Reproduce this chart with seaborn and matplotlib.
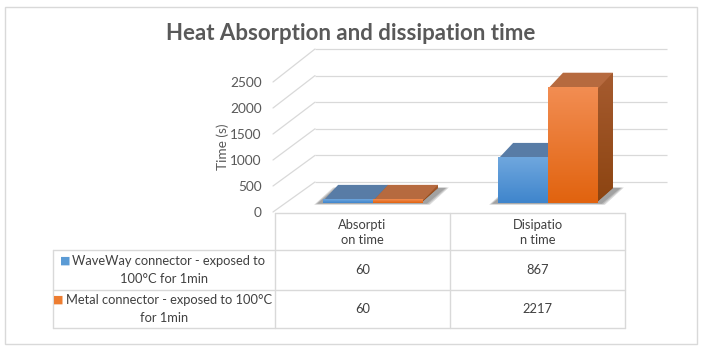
import matplotlib.pyplot as plt
import seaborn as sns
import pandas as pd
import numpy as np
from matplotlib.patches import Polygon, Rectangle
from matplotlib.colors import LinearSegmentedColormap

# ---------------- data ----------------
categories = ['Absorption time', 'Dissipation time']
header_labels = ['Absorpti\non time', 'Disipatio\nn time']
series = ['WaveWay connector - exposed to 100°C for 1min',
          'Metal connector - exposed to 100°C for 1min']
row_label_lines = [['WaveWay connector - exposed to', '100°C for 1min'],
                   ['Metal connector - exposed to 100°C', 'for 1min']]
waveway = [60, 867]
metal = [60, 2217]
y_ticks = [0, 500, 1000, 1500, 2000, 2500]

# colours: front flat, gradient bottom/top, top face, side face bottom/top
front_colors = ['#5b9bd5', '#ed7d31']
grad_colors = [('#3f85cc', '#6fa7de'), ('#e1630f', '#f28d52')]
top_colors = ['#587ca6', '#b66a3f']
side_colors = [('#3a5f8c', '#50729c'), ('#8c4411', '#a65b2f')]
grid_c = '#d9d9d9'
text_c = '#404040'
axis_c = '#595959'

df = pd.DataFrame({
    'category': categories * 2,
    'series': [series[0]] * 2 + [series[1]] * 2,
    'value': waveway + metal,
})

sns.set_style('white')
plt.rcParams['font.family'] = ['Lato', 'DejaVu Sans']

W, H = 703, 350
fig = plt.figure(figsize=(W / 100, H / 100), dpi=100)


def px_rect(x0, y0, x1, y1):
    # pixel box (origin top-left) -> figure fraction rect
    return [x0 / W, 1 - y1 / H, (x1 - x0) / W, (y1 - y0) / H]


# overlay in pixel coords for frame, table, title
ax_pix = fig.add_axes([0, 0, 1, 1])
ax_pix.set_xlim(0, W)
ax_pix.set_ylim(H, 0)
ax_pix.axis('off')

ax_pix.add_patch(Rectangle((5, 7), 692, 337, fill=False, ec=grid_c, lw=1))
ax_pix.text(351, 33, 'Heat Absorption and dissipation time', ha='center', va='center',
            fontsize=16, fontweight='bold', color=axis_c)

# ---------------- back wall gridlines ----------------
ax_back = fig.add_axes(px_rect(315, 49, 667, 182))
ax_back.set_ylim(0, 2500)
ax_back.axis('off')
ax_back.hlines(y_ticks, 0, 1, transform=ax_back.get_yaxis_transform(),
               colors=grid_c, lw=0.9, clip_on=False)

# ---------------- front axis (tick labels) ----------------
ax_front = fig.add_axes(px_rect(273, 82, 626, 212))
ax_front.set_ylim(0, 2500)
ax_front.set_yticks(y_ticks)
ax_front.set_xticks([])
ax_front.patch.set_alpha(0)
for s in ax_front.spines.values():
    s.set_visible(False)
ax_front.tick_params(axis='y', length=0, pad=8, labelsize=9.8, labelcolor=axis_c)
ax_front.set_ylabel('Time (s)', fontsize=9.8, color=axis_c, labelpad=1)

# side wall diagonals, from front tick to back gridline
to_pix = ax_pix.transData.inverted()
for v in y_ticks:
    pf = to_pix.transform(ax_front.get_yaxis_transform().transform((0, v)))
    pb = to_pix.transform(ax_back.get_yaxis_transform().transform((0, v)))
    ax_pix.plot([pf[0], pb[0]], [pf[1], pb[1]], color=grid_c, lw=0.9)

# ---------------- bars ----------------
ax_bar = fig.add_axes(px_rect(275, 73, 625, 203))
sns.barplot(data=df, x='category', y='value', hue='series', palette=front_colors,
            width=0.57, saturation=1, legend=False, linewidth=0, ax=ax_bar)
xlim = (-98 / 175, 1 + 77 / 175)
ax_bar.set_xlim(*xlim)
ax_bar.set_ylim(0, 2500)
ax_bar.axis('off')
ax_bar.patch.set_alpha(0)

depth_px = 15
ex = (xlim[1] - xlim[0]) / 350   # data per pixel, x
ey = 2500 / 130                  # data per pixel, y
ddx = depth_px * ex
ddy = depth_px * ey

# thin soft shadows under each group
for i in range(len(categories)):
    bars = [c.patches[i] for c in ax_bar.containers]
    gx0 = min(b.get_x() for b in bars)
    gx1 = max(b.get_x() + b.get_width() for b in bars)
    for k in (5, 3.5, 2):
        pts = [(gx0 - (k + 4) * ex, -k * 0.35 * ey),
               (gx1 + (k + 2) * ex, -k * 0.35 * ey),
               (gx1 + ddx + (k + 6) * ex, ddy + k * 0.1 * ey),
               (gx0 + ddx - k * ex, ddy + k * 0.1 * ey)]
        ax_bar.add_patch(Polygon(pts, closed=True, color='#202020', alpha=0.16,
                                 lw=0, zorder=0.4, clip_on=False))

for j, cont in enumerate(ax_bar.containers):
    cmap = LinearSegmentedColormap.from_list('g%d' % j, list(grad_colors[j]))
    scmap = LinearSegmentedColormap.from_list('s%d' % j, list(side_colors[j]))
    for p in cont.patches:
        x0, w, h = p.get_x(), p.get_width(), p.get_height()
        x1 = x0 + w
        p.set_zorder(1)
        grad = np.linspace(0, 1, 64).reshape(-1, 1)
        ax_bar.imshow(grad, extent=[x0, x1, 0, h], origin='lower', aspect='auto',
                      cmap=cmap, zorder=1.1, interpolation='bilinear')
        # side face starts a pixel inside the front so no seam shows
        side = Polygon([(x1 - 2 * ex, 0), (x1 - 2 * ex, h), (x1 + ddx, h + ddy), (x1 + ddx, ddy)],
                       closed=True, lw=0, fc=side_colors[j][0], zorder=0.8, clip_on=False)
        ax_bar.add_patch(side)
        sgrad = np.linspace(0, 1, 64).reshape(-1, 1)
        im = ax_bar.imshow(sgrad, extent=[x1 - 2 * ex, x1 + ddx, 0, h + ddy], origin='lower',
                           aspect='auto', cmap=scmap, zorder=0.8)
        im.set_clip_path(side)
        ax_bar.add_patch(Polygon([(x0, h - ey), (x1, h - ey), (x1 + ddx, h + ddy), (x0 + ddx, h + ddy)],
                                 closed=True, color=top_colors[j], lw=0, zorder=0.85,
                                 clip_on=False))
ax_bar.set_xlim(*xlim)
ax_bar.set_ylim(0, 2500)

# ---------------- data table ----------------
col_x = [53, 275, 450, 625]
row_y = [213, 250, 290, 328]
lc = dict(color=grid_c, lw=1)
ax_pix.plot([col_x[1], col_x[3]], [row_y[0], row_y[0]], **lc)
for y in row_y[1:]:
    ax_pix.plot([col_x[0], col_x[3]], [y, y], **lc)
for x in col_x[1:]:
    ax_pix.plot([x, x], [row_y[0], row_y[3]], **lc)
ax_pix.plot([col_x[0], col_x[0]], [row_y[1], row_y[3]], **lc)

for c, lab in enumerate(header_labels):
    ax_pix.text((col_x[c + 1] + col_x[c + 2]) / 2, (row_y[0] + row_y[1]) / 2 + 1, lab,
                ha='center', va='center', fontsize=9.3, color=text_c, linespacing=1.3)

values = [waveway, metal]
for r in range(len(series)):
    yc = (row_y[r + 1] + row_y[r + 2]) / 2
    cx = (col_x[0] + col_x[1]) / 2
    l1, l2 = row_label_lines[r]
    t1 = ax_pix.text(cx + 5, yc - 9, l1, ha='center', va='center', fontsize=9.3, color=text_c)
    ax_pix.text(cx, yc + 9, l2, ha='center', va='center', fontsize=9.3, color=text_c)
    ax_pix.annotate('■', xy=(0, 0.5), xycoords=t1, xytext=(-1.5, 0), textcoords='offset points',
                    ha='right', va='center', fontsize=8, color=front_colors[r],
                    family='DejaVu Sans')
    for c in range(len(categories)):
        ax_pix.text((col_x[c + 1] + col_x[c + 2]) / 2, yc, str(values[r][c]),
                    ha='center', va='center', fontsize=9.3, color=text_c)

fig.savefig('out.png', dpi=100, facecolor='white')
